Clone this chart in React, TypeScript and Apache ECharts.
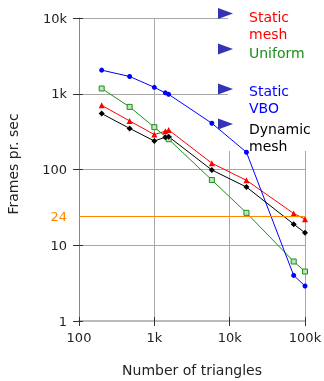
import React, { useEffect, useRef } from "react";
import * as echarts from "echarts";

const triangles = [200, 470, 1000, 1400, 1550, 5800, 16700, 70800, 100000];
const staticMesh = [703, 438, 289, 320, 333, 121, 72, 26.3, 22.1];
const uniform = [1172, 671, 362, null, 251, 72.6, 26.8, 6.1, 4.5];
const staticVBO = [2050, 1690, 1215, 1028, 982, 408, 169, 4.0, 2.9];
const dynamicMesh = [547, 349, 238, 267, 271, 98.5, 58.7, 19, 14.6];
const seriesNames = ["Static\nmesh", "Uniform", "Static\nVBO", "Dynamic\nmesh"];
const threshold = 24;

const FONT = "DejaVu Sans";

function fmt(v: number) {
  const r = Math.round(v);
  return r >= 1000 ? r / 1000 + "k" : String(r);
}

export default function App() {
  const ref = useRef<HTMLDivElement>(null);
  useEffect(() => {
    if (!ref.current) return;
    const chart = echarts.init(ref.current, undefined, { renderer: "svg" });
    const pairs = (vals: (number | null)[]) =>
      triangles.map((t, i) => [t, vals[i] as any]).filter((p) => p[1] !== null);
    const colors = ["#ff0000", "#1a8f1a", "#0000ff", "#000000"];
    const symbols = ["triangle", "rect", "circle", "diamond"];
    const sizes = [6, 5, 5, 6];
    const values = [staticMesh, uniform, staticVBO, dynamicMesh];
    const series: any[] = values.map((vals, i) => ({
      name: seriesNames[i],
      type: "line",
      data: pairs(vals),
      symbol: symbols[i],
      symbolSize: sizes[i],
      showAllSymbol: true,
      connectNulls: true,
      lineStyle: { color: colors[i], width: 1 },
      itemStyle: {
        color: i === 1 ? "#bfe3bf" : colors[i],
        borderColor: colors[i],
        borderWidth: i === 1 ? 1 : 0,
      },
      z: 3,
    }));
    series[0].markLine = {
      silent: true,
      symbol: "none",
      data: [{ yAxis: threshold }],
      lineStyle: { color: "#ff8800", type: "solid", width: 1.2 },
      label: {
        position: "start",
        formatter: String(threshold),
        color: "#ff8800",
        fontFamily: FONT,
        fontSize: 13,
        distance: 12,
      },
    };
    const legendTops = [8.5, 44.5, 82.5, 120.5];
    const triCenters = [13.5, 49, 89, 124];
    const graphic: any[] = [
      {
        type: "rect",
        shape: { x: 228, y: 0, width: 96, height: 151 },
        style: { fill: "#ffffff" },
        z: 1,
      },
      {
        type: "text",
        x: 13,
        y: 164,
        rotation: Math.PI / 2,
        style: {
          text: "Frames pr. sec",
          fontFamily: FONT,
          fontSize: 14,
          fill: "#222",
          align: "center",
          verticalAlign: "middle",
          textAlign: "center",
          textVerticalAlign: "middle",
        },
        z: 5,
      },
    ];
    seriesNames.forEach((n, i) => {
      const c = triCenters[i];
      graphic.push({
        type: "polygon",
        shape: { points: [[218, c - 5.5], [233, c], [218, c + 5.5]] },
        style: { fill: "#3333b3" },
        z: 5,
      });
      graphic.push({
        type: "text",
        x: 249,
        y: legendTops[i],
        style: {
          text: n,
          fontFamily: FONT,
          fontSize: 14,
          lineHeight: 17,
          fill: colors[i],
          align: "left",
          verticalAlign: "top",
          textAlign: "left",
          textVerticalAlign: "top",
        },
        z: 5,
      });
    });
    const labelStyle = { fontFamily: FONT, fontSize: 13, color: "#222" };
    chart.setOption({
      animation: false,
      grid: {
        left: 79,
        right: 19,
        top: 18,
        bottom: 60,
        containLabel: false,
        outerBoundsMode: "none",
      },
      xAxis: [
        {
          type: "log",
          logBase: 10,
          min: 100,
          max: 100000,
          name: "Number of triangles",
          nameLocation: "middle",
          nameGap: 42,
          nameTextStyle: { fontFamily: FONT, fontSize: 14, color: "#222" },
          axisLine: { show: true, lineStyle: { color: "#bbbbbb", width: 2 } },
          axisTick: { show: true, length: 5, lineStyle: { color: "#333" } },
          minorTick: { show: false },
          splitLine: { show: true, lineStyle: { color: "#a8a8a8", width: 1 } },
          axisLabel: { ...labelStyle, margin: 10, formatter: fmt },
        },
        {
          type: "log",
          logBase: 10,
          min: 100,
          max: 100000,
          position: "bottom",
          axisLine: { show: false },
          axisTick: { show: true, inside: true, length: 4, lineStyle: { color: "#333" } },
          splitLine: { show: false },
          axisLabel: { show: false },
        },
      ],
      yAxis: [
        {
          type: "log",
          logBase: 10,
          min: 1,
          max: 10000,
          axisLine: { show: true, lineStyle: { color: "#888888", width: 1 } },
          axisTick: { show: true, length: 6, lineStyle: { color: "#333" } },
          minorTick: { show: false },
          splitLine: { show: true, lineStyle: { color: "#a8a8a8", width: 1 } },
          axisLabel: { ...labelStyle, margin: 12, formatter: fmt },
        },
        {
          type: "log",
          logBase: 10,
          min: 1,
          max: 10000,
          position: "left",
          axisLine: { show: false },
          axisTick: { show: true, inside: true, length: 4, lineStyle: { color: "#333" } },
          splitLine: { show: false },
          axisLabel: { show: false },
        },
      ],
      graphic,
      series,
    });
    return () => chart.dispose();
  }, []);
  return (
    <div
      ref={ref}
      style={{ position: "fixed", left: 0, top: 0, width: 324, height: 381 }}
    />
  );
}
